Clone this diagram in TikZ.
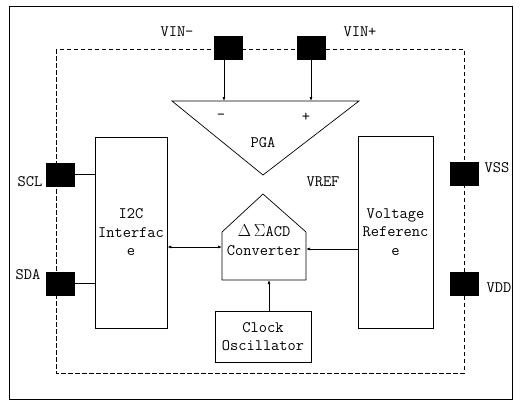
\documentclass[tikz,border=0pt]{standalone}
\usepackage{tikz}
\usetikzlibrary{arrows.meta,positioning,calc}

\begin{document}
\begin{tikzpicture}[x=1pt,y=-1pt,>={Latex[length=4pt,width=3pt]},line width=0.7pt,
  font=\ttfamily\fontsize{16}{18.5}\selectfont,
  pin/.style={draw,fill=black,minimum width=28pt,minimum height=23pt,inner sep=0pt},
  blockbox/.style={draw,align=center,inner sep=0pt}]
\useasboundingbox (0,0) rectangle (527,400);
\draw[line width=1pt] (9,6) rectangle (512,399.5);
\draw[dash pattern=on 4.5pt off 2.5pt] (56,49) rectangle (464,373);
% pins and their labels
\foreach \n/\x/\y/\lx/\ly/\t in {vinm/228/47.5/177/32/VIN-,vinp/311/47.5/360/32/VIN+,
  scl/60/174.5/30/182/SCL,sda/60/283.5/28/275/SDA,vss/464/174/497/168/VSS,vdd/464/283.5/499/288/VDD}
{ \node[pin] (\n) at (\x,\y) {};
  \node (\n lbl) at (\lx,\ly) {\t}; }
% PGA
\coordinate (pgaL) at (172,101); \coordinate (pgaR) at (359,101); \coordinate (pgaB) at (263,175);
\draw (pgaL) -- (pgaR) -- (pgaB) -- cycle;
\node (pga) at (263,143) {PGA};
\node (inmlbl) at (221,117) {\textendash}; \node (inplbl) at (306,117) {+};
\coordinate (inm) at (224,101); \coordinate (inp) at (311,101);
\draw[->] (vinm.south -| inm) -- (inm);
\draw[->] (vinp.south) -- (inp);
\node (vref lbl) at (323,182) {VREF};
% blocks
\node[blockbox,minimum width=72pt,minimum height=191pt] (i2c) at (131,232.5) {I2C\\Interfac\\e};
\node[blockbox,minimum width=75pt,minimum height=192pt] (vref) at (395.5,232) {Voltage\\Referenc\\e};
\node[blockbox,minimum width=96pt,minimum height=51pt] (clk) at (263,336.5) {Clock\\Oscillator};
% converter
\draw (222,280) -- (222,232) -- (263,194) -- (306,232) -- (306,280) -- cycle;
\node[align=center,inner sep=0pt] (adc) at (264,240) {$\Delta\,\Sigma$ACD\\Converter};
\coordinate (adcW) at (222,247); \coordinate (adcE) at (306,249); \coordinate (adcS) at (269,280);
\draw[<->] (adcW -| i2c.east) -- (adcW);
\draw[->] (adcE -| vref.west) -- (adcE);
\draw[->] (adcS |- clk.north) -- (adcS);
\draw (scl.east) -- (scl -| i2c.west);
\draw (sda.east) -- (sda -| i2c.west);
\end{tikzpicture}
\end{document}
